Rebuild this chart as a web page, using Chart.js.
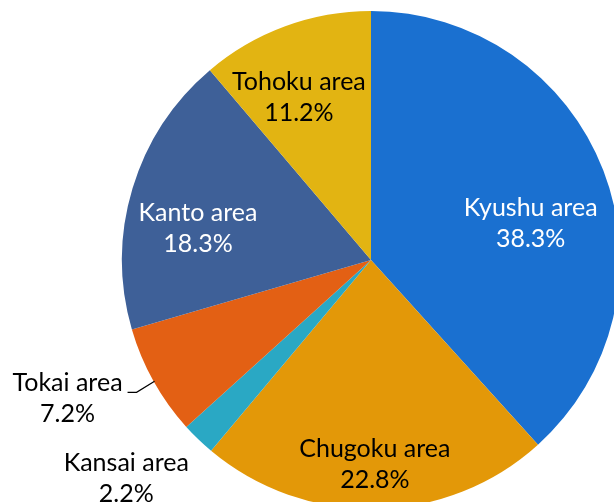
<!DOCTYPE html>
<html><head><meta charset="utf-8">
<script src="https://cdn.jsdelivr.net/npm/chart.js@4"></script>
<style>html,body{margin:0;padding:0;background:#fff;overflow:hidden;width:614px;height:502px}#wrap{position:absolute;left:0;top:0;width:640px;height:520px}</style>
</head><body><div id="wrap"><canvas id="c" width="640" height="520"></canvas></div>
<script>
const categories = ["Kyushu area","Chugoku area","Kansai area","Tokai area","Kanto area","Tohoku area"];
const shares = [38.3, 22.8, 2.2, 7.2, 18.3, 11.2];
const colors = ["#1a70d0","#e39808","#2aa8c4","#e36014","#3e6098","#e2b412"];
const labelColors = ["#ffffff","#000000","#000000","#000000","#ffffff","#000000"];
// label placement style: radius fraction along mid-angle, then pixel nudge
const labelStyle = [
  {f:0.70, dx:-3, dy:26},
  {f:0.82, dx:0, dy:0},
  {f:1.0, dx:-72, dy:39},
  {f:1.0, dx:-86, dy:17, leader:true},
  {f:0.78, dx:13, dy:24},
  {f:0.70, dx:-12, dy:1}
];
const FONT = '25px Lato, "Open Sans", sans-serif';
const labelPlugin = {
  id:'sliceLabels',
  afterDatasetsDraw(chart){
    const ctx = chart.ctx;
    const meta = chart.getDatasetMeta(0);
    ctx.save();
    ctx.font = FONT;
    ctx.textAlign = 'center';
    ctx.textBaseline = 'middle';
    meta.data.forEach((arc,i)=>{
      const p = arc.getProps(['x','y','startAngle','endAngle','outerRadius'],true);
      const mid = (p.startAngle+p.endAngle)/2;
      const s = labelStyle[i];
      const ex = p.x + Math.cos(mid)*p.outerRadius*s.f;
      const ey = p.y + Math.sin(mid)*p.outerRadius*s.f;
      let cx = ex + s.dx, cy = ey + s.dy;
      if (s.leader){
        ctx.strokeStyle = '#000'; ctx.lineWidth = 1.2;
        ctx.beginPath();
        ctx.moveTo(ex+1, ey);
        ctx.lineTo(ex-17, ey+11);
        ctx.lineTo(ex-26, ey+11);
        ctx.stroke();
      }
      ctx.fillStyle = labelColors[i];
      ctx.fillText(categories[i], cx, cy-15.5);
      ctx.fillText(shares[i].toFixed(1)+'%', cx, cy+15.5);
    });
    ctx.restore();
  }
};
new Chart(document.getElementById('c'),{
  type:'pie',
  data:{labels:categories,datasets:[{data:shares,backgroundColor:colors,borderWidth:0}]},
  options:{
    responsive:false,animation:false,
    layout:{padding:{left:122,top:11,right:20,bottom:11}},
    plugins:{legend:{display:false},tooltip:{enabled:false}}
  },
  plugins:[labelPlugin]
});
</script></body></html>
